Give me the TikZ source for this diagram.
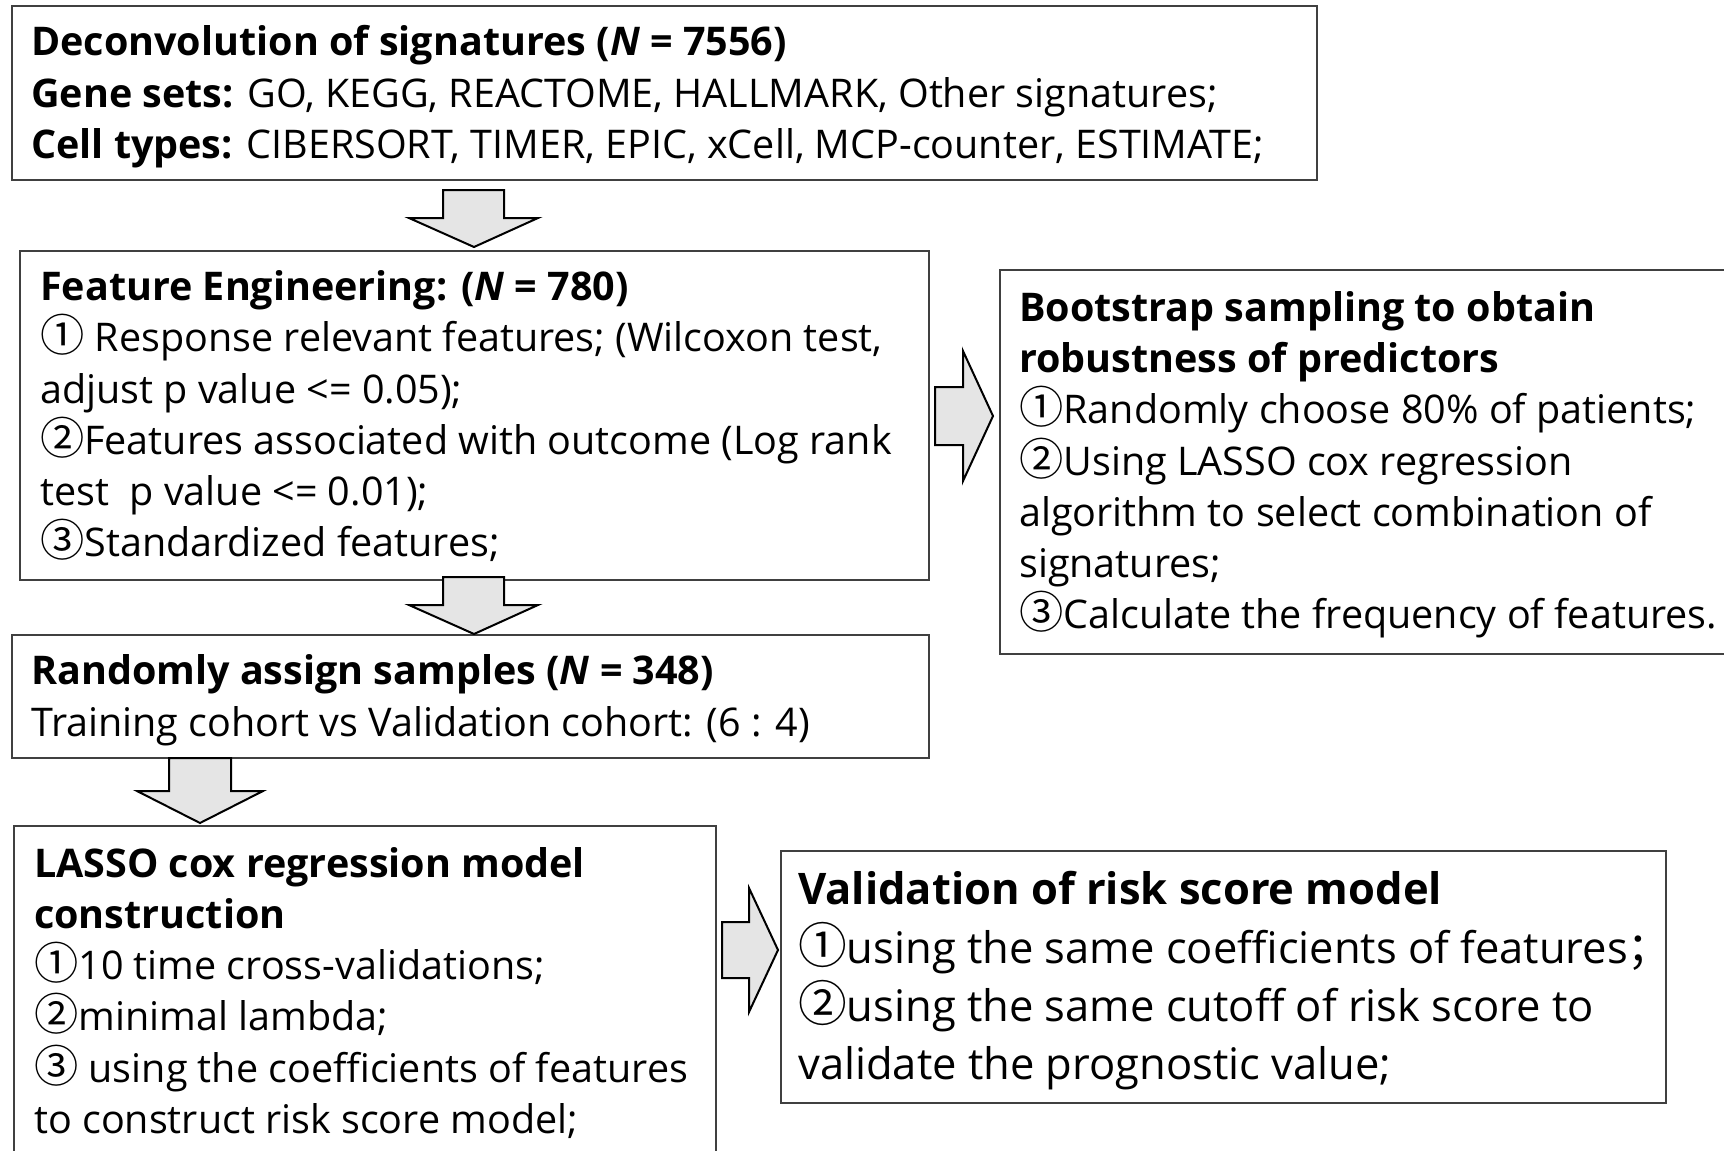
\documentclass[tikz,border=0pt]{standalone}
\usepackage{fontspec}
\setmainfont{Open Sans}
\newfontfamily\cjkfont{Noto Sans CJK SC}
\newcommand\cnum[1]{{\cjkfont\scalebox{1.12}{#1}}}
\newcommand\cjkpunct[1]{{\cjkfont #1}}
\tikzset{
  box/.style={draw=black!75, line width=1.5pt, anchor=north west, inner sep=0pt},
  txt/.style={anchor=west, inner sep=0pt, align=left, font=\fontsize{39.5}{51.2}\selectfont},
  bigtxt/.style={anchor=west, inner sep=0pt, align=left, font=\fontsize{43.5}{58.3}\selectfont},
  blockarrow/.style={draw=black, line width=2pt, fill=black!10, line join=miter}
}
\begin{document}
\begin{tikzpicture}[x=1pt,y=-1pt]
\useasboundingbox (0,0) rectangle (1724,1151);
\clip (0,0) rectangle (1724,1151);
\fill[white] (0,0) rectangle (1724,1151);

% boxes
\node[box, minimum width=1305pt, minimum height=174pt] (b1) at (11,5) {};
\node[box, minimum width=909pt, minimum height=329pt] (b2) at (19,250) {};
\node[box, minimum width=745pt, minimum height=384pt] (b3) at (999,269) {};
\node[box, minimum width=917pt, minimum height=123pt] (b4) at (11,634) {};
\node[box, minimum width=702pt, minimum height=345pt] (b5) at (13,825) {};
\node[box, minimum width=885pt, minimum height=252pt] (b6) at (780,850) {};

% texts
\node[txt] (t1) at ([xshift=20pt,yshift=-4pt]b1.west) {%
\textbf{Deconvolution of signatures (\textit{N} = 7556)}\\
\textbf{Gene sets:} GO, KEGG, REACTOME, HALLMARK, Other signatures;\\
\textbf{Cell types:} CIBERSORT, TIMER, EPIC, xCell, MCP-counter, ESTIMATE;};

\node[txt] (t2) at ([xshift=21pt,yshift=-1pt]b2.west) {%
\textbf{Feature Engineering: (\textit{N} = 780)}\\
\cnum{①} Response relevant features; (Wilcoxon test,\\
adjust p value <= 0.05);\\
\cnum{②}Features associated with outcome (Log rank\\
test\ \ p value <= 0.01);\\
\cnum{③}Standardized features;};

\node[txt] (t3) at ([xshift=20pt,yshift=-3pt]b3.west) {%
\textbf{Bootstrap sampling to obtain}\\
\textbf{robustness of predictors}\\
\cnum{①}Randomly choose 80\% of patients;\\
\cnum{②}Using LASSO cox regression\\
algorithm to select combination of\\
signatures;\\
\cnum{③}Calculate the frequency of features.};

\node[txt] (t4) at ([xshift=20pt,yshift=-4pt]b4.west) {%
\textbf{Randomly assign samples (\textit{N} = 348)}\\
Training cohort vs Validation cohort: (6 : 4)};

\node[txt, anchor=north west] (t5) at ([xshift=21pt,yshift=-22pt]b5.north west) {%
\textbf{LASSO cox regression model}\\
\textbf{construction}\\
\cnum{①}10 time cross-validations;\\
\cnum{②}minimal lambda;\\
\cnum{③} using the coefficients of features\\
to construct risk score model;};

\node[bigtxt] (t6) at ([xshift=18pt,yshift=-4pt]b6.west) {%
\textbf{Validation of risk score model}\\
\cnum{①}using the same coefficients of features\cjkpunct{；}\\
\cnum{②}using the same cutoff of risk score to\\
validate the prognostic value;};

% block arrows (down)
\draw[blockarrow] (443,190) -- (504,190) -- (504,218) -- (538,218) -- (474,247)
  -- (409,218) -- (443,218) -- cycle;
\draw[blockarrow] (443,577) -- (504,577) -- (504,605) -- (538,605) -- (474,634)
  -- (409,605) -- (443,605) -- cycle;
\draw[blockarrow] (169,758) -- (231,758) -- (231,791) -- (263,791) -- (200,823)
  -- (137,791) -- (169,791) -- cycle;
% block arrows (right)
\draw[blockarrow] (935,387) -- (963,387) -- (963,351) -- (993,416) -- (963,481)
  -- (963,445) -- (935,445) -- cycle;
\draw[blockarrow] (722,922) -- (749,922) -- (749,888) -- (778,950) -- (749,1012)
  -- (749,978) -- (722,978) -- cycle;
\end{tikzpicture}
\end{document}
